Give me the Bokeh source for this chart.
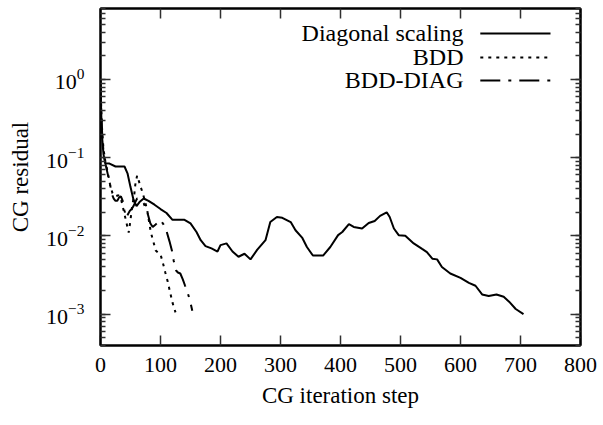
from bokeh.plotting import figure
from bokeh.models import (Range1d, LogAxis, LinearAxis, SingleIntervalTicker, LogTicker,
                          Label, Arrow, CustomJSTickFormatter)
from bokeh.embed import file_html
from bokeh.resources import INLINE

# ---- data ----
diag_x = [0, 1, 2, 3, 5, 8, 15, 25, 40, 45, 50, 55, 60, 65, 72, 80, 90, 100, 110, 120, 130, 140,
          150, 160, 167, 175, 185, 195, 200, 210, 220, 230, 240, 250, 261, 275, 283, 294, 303,
          317, 325, 336, 344, 354, 371, 383, 396, 403, 414, 422, 436, 447, 457, 466, 477, 482,
          489, 497, 508, 522, 536, 544, 553, 561, 569, 583, 600, 614, 625, 636, 647, 660, 672,
          681, 692, 705]
diag_y = [0.9, 0.4, 0.25, 0.17, 0.11, 0.085, 0.084, 0.077, 0.077, 0.063, 0.042, 0.029, 0.024,
          0.027, 0.030, 0.028, 0.025, 0.022, 0.0196, 0.016, 0.016, 0.016, 0.0144, 0.0112,
          0.0088, 0.0074, 0.0069, 0.0063, 0.0076, 0.0080, 0.0063, 0.0054, 0.0059, 0.0050,
          0.0066, 0.0088, 0.015, 0.0174, 0.017, 0.015, 0.0118, 0.0095, 0.0072, 0.0056, 0.0056,
          0.0072, 0.0102, 0.0112, 0.0141, 0.013, 0.0124, 0.0146, 0.0155, 0.018, 0.020, 0.0174,
          0.0124, 0.0102, 0.0100, 0.0080, 0.0068, 0.0062, 0.0051, 0.0050, 0.0040, 0.0033,
          0.0029, 0.0025, 0.0023, 0.00178, 0.0017, 0.00178, 0.00166, 0.00144, 0.00116, 0.0010]

bdd_x = [0, 1, 2, 3, 5, 8, 12, 16, 20, 25, 30, 34, 38, 43, 47, 50, 53, 56, 58, 61, 64, 67, 70,
         74, 78, 81, 84, 88, 92, 97, 100, 104, 108, 112, 116, 120, 125]
bdd_y = [1.0, 0.5, 0.3, 0.2, 0.13, 0.09, 0.065, 0.045, 0.035, 0.032, 0.033, 0.03, 0.022, 0.015,
         0.011, 0.016, 0.025, 0.032, 0.045, 0.059, 0.05, 0.042, 0.036, 0.028, 0.021, 0.015,
         0.011, 0.0085, 0.0065, 0.006, 0.0058, 0.0045, 0.0034, 0.0026, 0.0019, 0.0014, 0.00105]

bdddiag_x = [0, 1, 2, 3, 5, 8, 12, 16, 19, 22, 25, 28, 31, 34, 37, 40, 43, 46, 49, 52, 55, 58,
             61, 64, 67, 72, 78, 83, 87, 92, 96, 100, 105, 110, 115, 119, 122, 126, 129, 133,
             137, 141, 145, 149, 153]
bdddiag_y = [1.0, 0.45, 0.28, 0.18, 0.12, 0.085, 0.062, 0.045, 0.034, 0.030, 0.028, 0.028,
             0.031, 0.032, 0.028, 0.021, 0.017, 0.019, 0.021, 0.022, 0.024, 0.027, 0.030, 0.030,
             0.029, 0.026, 0.020, 0.0145, 0.013, 0.014, 0.015, 0.016, 0.014, 0.0115, 0.0085,
             0.0065, 0.0048, 0.0036, 0.0034, 0.0033, 0.0028, 0.0023, 0.0019, 0.0015, 0.0011]

series_names = ["Diagonal scaling", "BDD", "BDD-DIAG"]
x_label = "CG iteration step"
y_label = "CG residual"

FONT = "Liberation Serif"
TICK_FS = "22px"
LABEL_FS = "23px"
LEGEND_FS = "24px"

p = figure(width=603, height=425, output_backend="svg", toolbar_location=None,
           y_axis_type="log", x_range=Range1d(0, 800), y_range=Range1d(3.96e-4, 8.07),
           min_border_left=100, min_border_right=23, min_border_top=8, min_border_bottom=80)
p.xgrid.visible = False
p.ygrid.visible = False
p.outline_line_color = "black"
p.outline_line_width = 2

def style_axis(ax, labels=True):
    ax.axis_line_color = "black"
    ax.axis_line_width = 2
    ax.major_tick_in = 10
    ax.major_tick_out = 0
    ax.minor_tick_in = 5
    ax.minor_tick_out = 0
    ax.major_tick_line_color = "#303030"
    ax.minor_tick_line_color = "#303030"
    ax.major_tick_line_width = 1.5
    ax.minor_tick_line_width = 1.5
    if labels:
        ax.major_label_text_font = FONT
        ax.major_label_text_font_size = TICK_FS
        ax.major_label_text_color = "black"
        ax.axis_label_text_font = FONT
        ax.axis_label_text_font_size = LABEL_FS
        ax.axis_label_text_font_style = "normal"
        ax.axis_label_text_color = "black"
    else:
        ax.formatter = CustomJSTickFormatter(code="return '';")
        ax.major_label_standoff = 0
        ax.axis_label = None

xa = p.xaxis[0]
xa.ticker = SingleIntervalTicker(interval=100, num_minor_ticks=0)
xa.axis_label = x_label
xa.major_label_standoff = 12
xa.axis_label_standoff = 8
style_axis(xa)

ya = p.yaxis[0]
ya.ticker = LogTicker(num_minor_ticks=10)
ya.axis_label = y_label
ya.major_label_standoff = 16
ya.axis_label_standoff = 10
style_axis(ya)

top = LinearAxis(ticker=SingleIntervalTicker(interval=100, num_minor_ticks=0))
style_axis(top, labels=False)
p.add_layout(top, "above")
right = LogAxis(ticker=LogTicker(num_minor_ticks=10))
style_axis(right, labels=False)
p.add_layout(right, "right")

p.line(diag_x, diag_y, line_color="black", line_width=2)
p.line(bdd_x, bdd_y, line_color="black", line_width=2, line_dash="3 5")
p.line(bdddiag_x, bdddiag_y, line_color="black", line_width=2, line_dash="20 8 3 8")

# legend (gnuplot style: label left of sample)
leg_y = [3.87, 1.91, 0.97]
leg_dash = ["solid", "3 5", "20 8 3 8"]
for name, yy, dash in zip(series_names, leg_y, leg_dash):
    p.add_layout(Label(x=605, y=yy, text=name, text_align="right", text_baseline="middle",
                       text_font=FONT, text_font_size=LEGEND_FS, text_color="black"))
    p.add_layout(Arrow(x_start=633, y_start=yy, x_end=750, y_end=yy, start=None, end=None,
                       line_color="black", line_width=2, line_dash=dash))

open("out.html", "w").write(file_html(p, INLINE))
